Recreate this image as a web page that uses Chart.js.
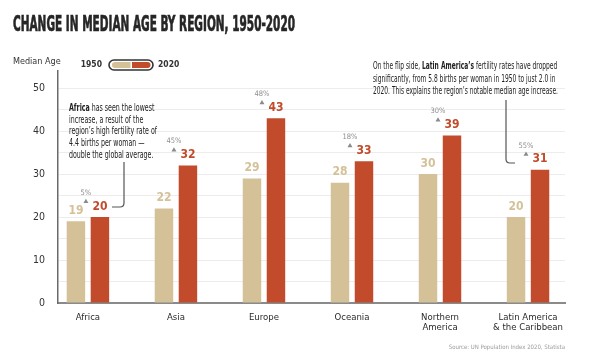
<!DOCTYPE html>
<html>
<head>
<meta charset="utf-8">
<script src="https://cdn.jsdelivr.net/npm/chart.js@4.4.1/dist/chart.umd.min.js"></script>
<style>
  html, body { margin: 0; padding: 0; background: #ffffff; }
  #wrap { width: 600px; height: 360px; position: relative; }
</style>
</head>
<body>
<div id="wrap"><canvas id="c" width="600" height="360"></canvas></div>
<script>
// ---- data ----
const categories = ["Africa", "Asia", "Europe", "Oceania", ["Northern", "America"], ["Latin America", "& the Caribbean"]];
const age1950 = [19, 22, 29, 28, 30, 20];
const age2020 = [20, 32, 43, 33, 39, 31];
const pctIncrease = ["5%", "45%", "48%", "18%", "30%", "55%"];
const yTicks = [0, 10, 20, 30, 40, 50];
const seriesNames = ["1950", "2020"];

const FONT = '"Liberation Sans Narrow", "DejaVu Sans Condensed", "Roboto Condensed", "Liberation Sans", sans-serif';
const BEIGE = '#d4c197';
const RED = '#c14b2b';

function richLineWidth(ctx, runs, size) {
  let w = 0;
  runs.forEach(r => { ctx.font = (r.bold ? 'bold ' : '') + size + 'px ' + FONT; w += ctx.measureText(r.t).width; });
  return w;
}
function drawRich(ctx, runs, x, y, size, scale, color) {
  ctx.save();
  ctx.translate(x, y);
  ctx.scale(scale, 1);
  ctx.fillStyle = color;
  ctx.textAlign = 'left';
  ctx.textBaseline = 'middle';
  let cx = 0;
  runs.forEach(r => {
    ctx.font = (r.bold ? 'bold ' : '') + size + 'px ' + FONT;
    ctx.fillText(r.t, cx, 0);
    cx += ctx.measureText(r.t).width;
  });
  ctx.restore();
}
function drawBlock(ctx, lines, x, y0, lh, size, refIdx, refW, color) {
  const s = refW / richLineWidth(ctx, lines[refIdx], size);
  lines.forEach((ln, i) => drawRich(ctx, ln, x, y0 + i * lh, size, s, color));
}

const decor = {
  id: 'decor',
  afterDraw(chart) {
    const ctx = chart.ctx;
    ctx.save();
    // title
    ctx.font = 'bold 21px ' + FONT;
    const tw = ctx.measureText('CHANGE IN MEDIAN AGE BY REGION, 1950-2020').width;
    ctx.save();
    ctx.translate(13, 31);
    ctx.scale(282 / tw, 1);
    ctx.fillStyle = '#262626';
    ctx.strokeStyle = '#262626';
    ctx.lineWidth = 0.7;
    ctx.textBaseline = 'alphabetic';
    ctx.fillText('CHANGE IN MEDIAN AGE BY REGION, 1950-2020', 0, 0);
    ctx.strokeText('CHANGE IN MEDIAN AGE BY REGION, 1950-2020', 0, 0);
    ctx.restore();

    // axis title
    ctx.font = '9px ' + FONT;
    ctx.fillStyle = '#333';
    ctx.textBaseline = 'middle';
    ctx.textAlign = 'left';
    ctx.fillText('Median Age', 13, 62);

    // legend
    ctx.font = 'bold 8.5px ' + FONT;
    ctx.textAlign = 'right';
    ctx.fillText(seriesNames[0], 102, 65);
    ctx.textAlign = 'left';
    ctx.fillText(seriesNames[1], 158, 65);
    ctx.beginPath();
    ctx.roundRect(109, 60, 44, 10, 5);
    ctx.strokeStyle = '#333';
    ctx.lineWidth = 1.6;
    ctx.stroke();
    ctx.fillStyle = BEIGE;
    ctx.beginPath(); ctx.roundRect(112, 62, 18.5, 6, [3, 0, 0, 3]); ctx.fill();
    ctx.fillStyle = RED;
    ctx.beginPath(); ctx.roundRect(132, 62, 18.5, 6, [0, 3, 3, 0]); ctx.fill();

    // value labels
    const m0 = chart.getDatasetMeta(0).data;
    const m1 = chart.getDatasetMeta(1).data;
    ctx.textAlign = 'center';
    ctx.textBaseline = 'middle';
    m0.forEach((b, i) => {
      ctx.font = 'bold 12px ' + FONT;
      ctx.fillStyle = BEIGE;
      ctx.fillText(String(age1950[i]), b.x, b.y - 10.5);
    });
    m1.forEach((b, i) => {
      ctx.font = 'bold 12px ' + FONT;
      ctx.fillStyle = RED;
      ctx.fillText(String(age2020[i]), b.x, b.y - 10.5);
      const tx = b.x - 14, ty = b.y - 16;
      ctx.fillStyle = '#8a8a8a';
      ctx.beginPath();
      ctx.moveTo(tx - 2.5, ty + 2);
      ctx.lineTo(tx + 2.5, ty + 2);
      ctx.lineTo(tx, ty - 2.2);
      ctx.closePath();
      ctx.fill();
      ctx.font = '7.5px ' + FONT;
      ctx.fillStyle = '#8f8f8f';
      ctx.fillText(pctIncrease[i], tx, b.y - 24);
    });

    // annotations
    drawBlock(ctx, [
      [{ t: 'Africa', bold: true }, { t: ' has seen the lowest' }],
      [{ t: 'increase, a result of the' }],
      [{ t: 'region\u2019s high fertility rate of' }],
      [{ t: '4.4 births per woman \u2014' }],
      [{ t: 'double the global average.' }]
    ], 69, 108, 11.8, 10.5, 2, 88, '#222');
    drawBlock(ctx, [
      [{ t: 'On the flip side, ' }, { t: 'Latin America\u2019s', bold: true }, { t: ' fertility rates have dropped' }],
      [{ t: 'significantly, from 5.8 births per woman in 1950 to just 2.0 in' }],
      [{ t: '2020. This explains the region\u2019s notable median age increase.' }]
    ], 373, 66, 12.8, 10.5, 2, 185, '#222');

    ctx.strokeStyle = '#555';
    ctx.lineWidth = 1.2;
    ctx.beginPath();
    ctx.moveTo(124, 162);
    ctx.lineTo(124, 203);
    ctx.quadraticCurveTo(124, 207, 120, 207);
    ctx.lineTo(112, 207);
    ctx.stroke();
    ctx.beginPath();
    ctx.moveTo(506, 100);
    ctx.lineTo(506, 159);
    ctx.quadraticCurveTo(506, 163, 510, 163);
    ctx.lineTo(515, 163);
    ctx.stroke();

    // source
    ctx.font = '6px ' + FONT;
    ctx.fillStyle = '#9a9a9a';
    ctx.textAlign = 'right';
    ctx.fillText('Source: UN Population Index 2020, Statista', 565, 347);
    ctx.restore();
  }
};

new Chart(document.getElementById('c'), {
  type: 'bar',
  data: {
    datasets: [
      { label: seriesNames[0], data: age1950.map((v, i) => ({ x: i, y: v })), backgroundColor: BEIGE, borderWidth: 0 },
      { label: seriesNames[1], data: age2020.map((v, i) => ({ x: i, y: v })), backgroundColor: RED, borderWidth: 0 }
    ]
  },
  options: {
    responsive: false,
    animation: false,
    events: [],
    categoryPercentage: 0.545,
    barPercentage: 0.77,
    layout: { padding: { left: 0, right: 35, top: 71, bottom: 0 } },
    plugins: { legend: { display: false }, tooltip: { enabled: false }, title: { display: false } },
    scales: {
      x: {
        type: 'linear',
        offset: false,
        min: -0.34,
        max: 5.42,
        afterFit: s => { s.height = 57; },
        afterBuildTicks: s => { s.ticks = categories.map((c, i) => ({ value: i })); },
        grid: { display: false, drawTicks: false, offset: false },
        border: { display: true, color: '#8a8a8a', width: 2 },
        ticks: {
          autoSkip: false,
          maxRotation: 0,
          padding: 9,
          color: '#2a2a2a',
          font: { family: FONT, size: 9.5, lineHeight: 1.1 },
          callback: (v, i) => categories[i]
        }
      },
      y: {
        min: 0,
        max: 54,
        afterFit: s => { s.width = 58; },
        afterBuildTicks: s => { s.ticks = s.ticks.filter(t => t.value <= 50); },
        grid: { color: '#ececec', lineWidth: 1, drawTicks: false },
        border: { display: true, color: '#6a6a6a', width: 1.5 },
        ticks: {
          stepSize: 5,
          padding: 13,
          color: '#333',
          font: { family: FONT, size: 10.5 },
          callback: v => (yTicks.includes(v) ? v : '')
        }
      }
    }
  },
  plugins: [decor]
});
</script>
</body>
</html>
